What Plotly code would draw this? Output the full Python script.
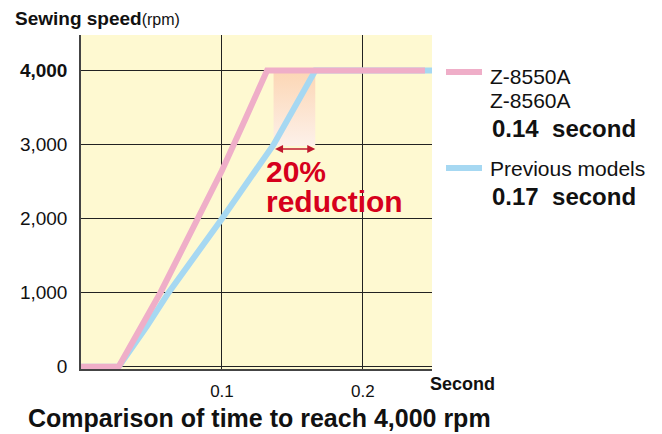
import plotly.graph_objects as go

# ---- data ----
pink_t = [0, 0.0267, 0.0563, 0.0822, 0.1000, 0.1162, 0.132, 0.244]
pink_rpm = [0, 0, 1000, 2000, 2650, 3330, 4000, 4000]
blue_t = [0, 0.0267, 0.0468, 0.0621, 0.1000, 0.1366, 0.1662, 0.249]
blue_rpm = [0, 0, 548, 1000, 2000, 3000, 4000, 4000]
shade_t = [0.1366, 0.1662, 0.1662, 0.1366]
shade_rpm = [2980, 2980, 4000, 4000]
arrow_rpm = 2940
y_ticks = [0, 1000, 2000, 3000, 4000]
y_ticktext = ["0", "1,000", "2,000", "3,000", "<b>4,000</b>"]
x_ticks = [0.1, 0.2]
x_ticktext = ["0.1", "0.2"]

W, H = 662, 434
L, R, T, B = 81, 230, 35, 65
PW, PH = W - L - R, H - T - B
FONT = "Liberation Sans, Arial, sans-serif"

def px(x):
    return (x - L) / PW

def py(y):
    return (H - B - y) / PH

PINK = "#efaec8"
BLUE = "#a6d8f2"
RED = "#d6001c"

fig = go.Figure()
fig.add_trace(go.Scatter(
    x=shade_t, y=shade_rpm, fill="toself", mode="none",
    fillgradient=dict(type="vertical", colorscale=[[0, "#fdf1ea"], [1, "#fcd6b4"]]),
    hoverinfo="skip", showlegend=False))
fig.add_trace(go.Scatter(x=blue_t, y=blue_rpm, mode="lines",
                         line=dict(color=BLUE, width=6), cliponaxis=False, showlegend=False))
fig.add_trace(go.Scatter(x=pink_t, y=pink_rpm, mode="lines",
                         line=dict(color=PINK, width=6), cliponaxis=False, showlegend=False))

ann = []
def add_text(text, x, y, size, color="#111", bold=False, xanchor="left"):
    if bold:
        text = "<b>" + text + "</b>"
    ann.append(dict(text=text, x=px(x), y=py(y), xref="paper", yref="paper",
                    xanchor=xanchor, yanchor="middle", showarrow=False,
                    font=dict(family=FONT, size=size, color=color)))

add_text("<b>Sewing speed</b><span style='font-size:16px'>(rpm)</span>", 13, 18, 19)
add_text("Second", 428, 384, 18, bold=True)
add_text("Comparison of time to reach 4,000 rpm", 259, 418, 25, bold=True, xanchor="center")
add_text("Z-8550A", 488, 76, 21)
add_text("Z-8560A", 488, 100, 21)
add_text("0.14\u00a0\u00a0second", 490, 128, 24, bold=True)
add_text("Previous models", 488, 168, 21)
add_text("0.17\u00a0\u00a0second", 490, 196, 24, bold=True)
add_text("20%", 264, 171, 30, color=RED, bold=True)
add_text("reduction", 264, 201, 30, color=RED, bold=True)

ann.append(dict(x=shade_t[1], y=arrow_rpm, ax=shade_t[0], ay=arrow_rpm,
                xref="x", yref="y", axref="x", ayref="y", text="",
                showarrow=True, arrowside="end+start", arrowhead=2,
                arrowsize=1, arrowwidth=1.6, arrowcolor="#c0182e"))

shapes = [
    dict(type="line", xref="paper", yref="paper", x0=px(446), x1=px(482), y0=py(72), y1=py(72),
         line=dict(color=PINK, width=6)),
    dict(type="line", xref="paper", yref="paper", x0=px(446), x1=px(482), y0=py(168), y1=py(168),
         line=dict(color=BLUE, width=6)),
]

fig.update_layout(
    width=W, height=H, margin=dict(l=L, r=R, t=T, b=B),
    paper_bgcolor="white", plot_bgcolor="#fef9d1",
    font=dict(family=FONT, color="#111"),
    annotations=ann, shapes=shapes, showlegend=False,
    xaxis=dict(range=[0, 0.249], tickvals=x_ticks, ticktext=x_ticktext,
               showgrid=True, gridcolor="#222", gridwidth=1, zeroline=False,
               showline=True, linecolor="#444", linewidth=1.5,
               ticks="", ticklabelstandoff=6, tickfont=dict(size=17, family=FONT, color="#111")),
    yaxis=dict(range=[-30, 4480], tickvals=y_ticks, ticktext=y_ticktext,
               showgrid=True, gridcolor="#222", gridwidth=1, zeroline=False,
               showline=True, linecolor="#444", linewidth=1.5,
               ticks="", ticklabelstandoff=8, tickfont=dict(size=19, family=FONT, color="#111")),
)

fig.write_html("out.html", config={"displayModeBar": False},
               post_script="document.body.style.margin='0';document.body.style.overflow='hidden';")
